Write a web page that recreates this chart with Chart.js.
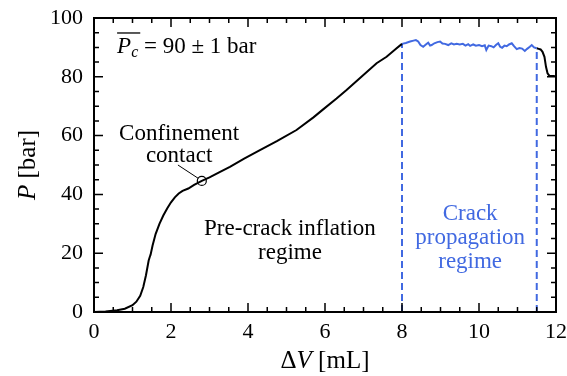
<!DOCTYPE html>
<html>
<head>
<meta charset="utf-8">
<script src="https://cdn.jsdelivr.net/npm/chart.js@4"></script>
<style>
  html, body { margin: 0; padding: 0; background: #fff; }
</style>
</head>
<body>
<canvas id="myChart" width="567" height="376"></canvas>
<script>
// injected volume (mL) vs pressure (bar)
const preCrackV = [0, 0.3, 0.6, 0.8, 1.0, 1.1, 1.2, 1.28, 1.35, 1.42, 1.45, 1.47, 1.52, 1.6, 1.7, 1.8, 1.9, 2.0, 2.1, 2.2, 2.3, 2.45, 2.6, 2.8, 3.0, 3.25, 3.53, 3.9, 4.31, 4.75, 5.26, 5.7, 5.96, 6.3, 6.56, 6.91, 7.34, 7.6, 7.86, 8.0];
const preCrackP = [0, 0.2, 0.6, 1.1, 2.3, 3.5, 5.5, 8.5, 12.5, 17.5, 18.8, 19.5, 22.5, 26.5, 30, 32.8, 35.2, 37.3, 39, 40.3, 41.2, 42, 43.2, 44.6, 45.8, 47.5, 49.4, 52.2, 55.1, 58.1, 61.9, 66.2, 69.0, 72.6, 75.5, 79.6, 84.6, 86.8, 89.7, 91.2];

const crackV = [8.0, 8.1, 8.21, 8.3, 8.36, 8.42, 8.48, 8.55, 8.62, 8.68, 8.73, 8.77, 8.84, 8.92, 8.99, 9.05, 9.12, 9.2, 9.28, 9.35, 9.42, 9.5, 9.58, 9.65, 9.72, 9.77, 9.85, 9.92, 10.0, 10.08, 10.15, 10.19, 10.25, 10.32, 10.38, 10.44, 10.5, 10.55, 10.6, 10.66, 10.72, 10.78, 10.85, 10.91, 10.98, 11.05, 11.12, 11.19, 11.25, 11.32, 11.37, 11.43, 11.5];
const crackP = [91.2, 91.5, 92.0, 92.3, 92.5, 92.0, 90.8, 90.2, 91.0, 91.6, 90.6, 90.8, 91.4, 91.8, 92.0, 91.3, 91.2, 90.8, 91.4, 91.0, 91.2, 91.0, 91.2, 90.6, 91.1, 90.5, 91.0, 90.6, 90.8, 90.4, 90.7, 89.1, 90.6, 90.4, 90.0, 90.8, 91.4, 90.2, 89.9, 90.6, 90.4, 91.0, 91.4, 90.4, 89.4, 89.8, 89.6, 88.8, 89.5, 90.2, 90.8, 90.0, 89.7];

const tailV = [11.5, 11.55, 11.6, 11.65, 11.7, 11.74, 11.78, 11.83, 11.9, 11.97];
const tailP = [89.7, 89.5, 89.3, 88.5, 86.8, 83.4, 81.2, 80.3, 80.3, 80.3];

// regime boundaries (dashed) and where they meet the curve
const boundaryV = [8, 11.5];
const boundaryTopP = [91.2, 89.7];

// confinement contact marker
const contactV = 2.8;
const contactP = 44.6;

const xTicks = [0, 2, 4, 6, 8, 10, 12];
const yTicks = [0, 20, 40, 60, 80, 100];

const blue = '#4169e1';
const serif = '"Liberation Serif", "Times New Roman", serif';

const toXY = (xs, ys) => xs.map((v, i) => ({x: v, y: ys[i]}));

const datasets = [
  {data: toXY(preCrackV, preCrackP), borderColor: '#000', borderWidth: 2},
  {data: toXY(crackV, crackP), borderColor: blue, borderWidth: 2},
  {data: toXY(tailV, tailP), borderColor: '#000', borderWidth: 2}
];
boundaryV.forEach((v, i) => {
  datasets.push({
    data: [{x: v, y: 0}, {x: v, y: boundaryTopP[i]}],
    borderColor: blue, borderWidth: 2, borderDash: [7, 4]
  });
});
datasets.push({
  data: [{x: contactV, y: contactP}],
  showLine: false, pointRadius: 4.5, pointBorderWidth: 1.2,
  pointBackgroundColor: '#fff', pointBorderColor: '#000'
});

// draw a run of [text, font, dy] pieces starting at x
function drawRuns(ctx, runs, x, y, align) {
  let total = 0;
  runs.forEach(r => { ctx.font = r[1]; total += ctx.measureText(r[0]).width; });
  let cx = align === 'center' ? x - total / 2 : x;
  runs.forEach(r => {
    ctx.font = r[1];
    ctx.fillText(r[0], cx, y + (r[2] || 0));
    cx += ctx.measureText(r[0]).width;
  });
}

const decorations = {
  id: 'decorations',
  afterDatasetsDraw(chart) {
    const {ctx, chartArea: a, scales: {x, y}} = chart;
    ctx.save();

    // frame with inward ticks on all four sides
    ctx.strokeStyle = '#000';
    ctx.lineWidth = 1.5;
    ctx.beginPath();
    for (let v = 0; v <= 12.001; v += 0.5) {
      const px = x.getPixelForValue(v);
      const len = Math.abs(v % 2) < 1e-6 ? 9 : 5;
      ctx.moveTo(px, a.bottom); ctx.lineTo(px, a.bottom - len);
      ctx.moveTo(px, a.top); ctx.lineTo(px, a.top + len);
    }
    for (let v = 0; v <= 100.001; v += 5) {
      const py = y.getPixelForValue(v);
      const len = v % 20 === 0 ? 9 : 5;
      ctx.moveTo(a.left, py); ctx.lineTo(a.left + len, py);
      ctx.moveTo(a.right, py); ctx.lineTo(a.right - len, py);
    }
    ctx.stroke();
    ctx.lineWidth = 2;
    ctx.strokeRect(a.left, a.top, a.right - a.left, a.bottom - a.top);

    // leader from the label to the contact marker
    const cx = x.getPixelForValue(contactV), cy = y.getPixelForValue(contactP);
    ctx.lineWidth = 1;
    ctx.beginPath();
    ctx.moveTo(x.getPixelForValue(2.18), y.getPixelForValue(50));
    ctx.lineTo(cx - 3.5, cy - 2.5);
    ctx.stroke();

    ctx.fillStyle = '#000';
    ctx.textBaseline = 'alphabetic';
    ctx.textAlign = 'left';
    const f = '23px ' + serif, fi = 'italic 23px ' + serif, fs = 'italic 16px ' + serif;
    const ft = '25px ' + serif, fti = 'italic 25px ' + serif;

    // mean critical pressure
    const px0 = x.getPixelForValue(0.6), py0 = y.getPixelForValue(88.1);
    drawRuns(ctx, [['P', fi], ['c', fs, 4], [' = 90 \u00b1 1 bar', f]], px0, py0, 'left');
    ctx.font = fi;
    const pw = ctx.measureText('P').width;
    ctx.font = fs;
    const cw = ctx.measureText('c').width;
    ctx.lineWidth = 1.3;
    ctx.beginPath();
    ctx.moveTo(px0, py0 - 20); ctx.lineTo(px0 + pw + cw + 2, py0 - 20);
    ctx.stroke();

    // region labels
    const centred = (txt, v, p, col) => {
      ctx.fillStyle = col;
      drawRuns(ctx, [[txt, f]], x.getPixelForValue(v), y.getPixelForValue(p), 'center');
    };
    centred('Confinement', 2.21, 58.5, '#000');
    centred('contact', 2.21, 51.0, '#000');
    centred('Pre-crack inflation', 5.09, 26.2, '#000');
    centred('regime', 5.09, 18.0, '#000');
    centred('Crack', 9.77, 31.3, blue);
    centred('propagation', 9.77, 23.1, blue);
    centred('regime', 9.77, 14.9, blue);

    // axis titles
    ctx.fillStyle = '#000';
    drawRuns(ctx, [['\u0394', ft], ['V', fti], [' [mL]', ft]], (a.left + a.right) / 2, 368, 'center');
    ctx.translate(35, (a.top + a.bottom) / 2);
    ctx.rotate(-Math.PI / 2);
    drawRuns(ctx, [['P', fti], [' [bar]', ft]], 0, 0, 'center');
    ctx.restore();
  }
};

new Chart(document.getElementById('myChart'), {
  type: 'scatter',
  data: {datasets: datasets},
  options: {
    responsive: false,
    animation: false,
    showLine: true,
    elements: {point: {radius: 0}, line: {tension: 0}},
    layout: {padding: {left: 0, right: 11, top: 18, bottom: 0}},
    plugins: {legend: {display: false}, tooltip: {enabled: false}},
    scales: {
      x: {
        type: 'linear', min: 0, max: 12,
        afterFit: s => { s.height = 64; s.paddingLeft = 0; s.paddingRight = 0; },
        afterBuildTicks: s => { s.ticks = xTicks.map(v => ({value: v})); },
        grid: {display: false, drawTicks: false, tickLength: 0}, border: {display: false},
        ticks: {color: '#000', padding: 7, maxRotation: 0, font: {family: serif, size: 22}}
      },
      y: {
        type: 'linear', min: 0, max: 100,
        afterFit: s => { s.width = 94; s.paddingTop = 0; s.paddingBottom = 0; },
        afterBuildTicks: s => { s.ticks = yTicks.map(v => ({value: v})); },
        grid: {display: false, drawTicks: false, tickLength: 0}, border: {display: false},
        ticks: {color: '#000', padding: 11, font: {family: serif, size: 22}}
      }
    }
  },
  plugins: [decorations]
});
</script>
</body>
</html>
